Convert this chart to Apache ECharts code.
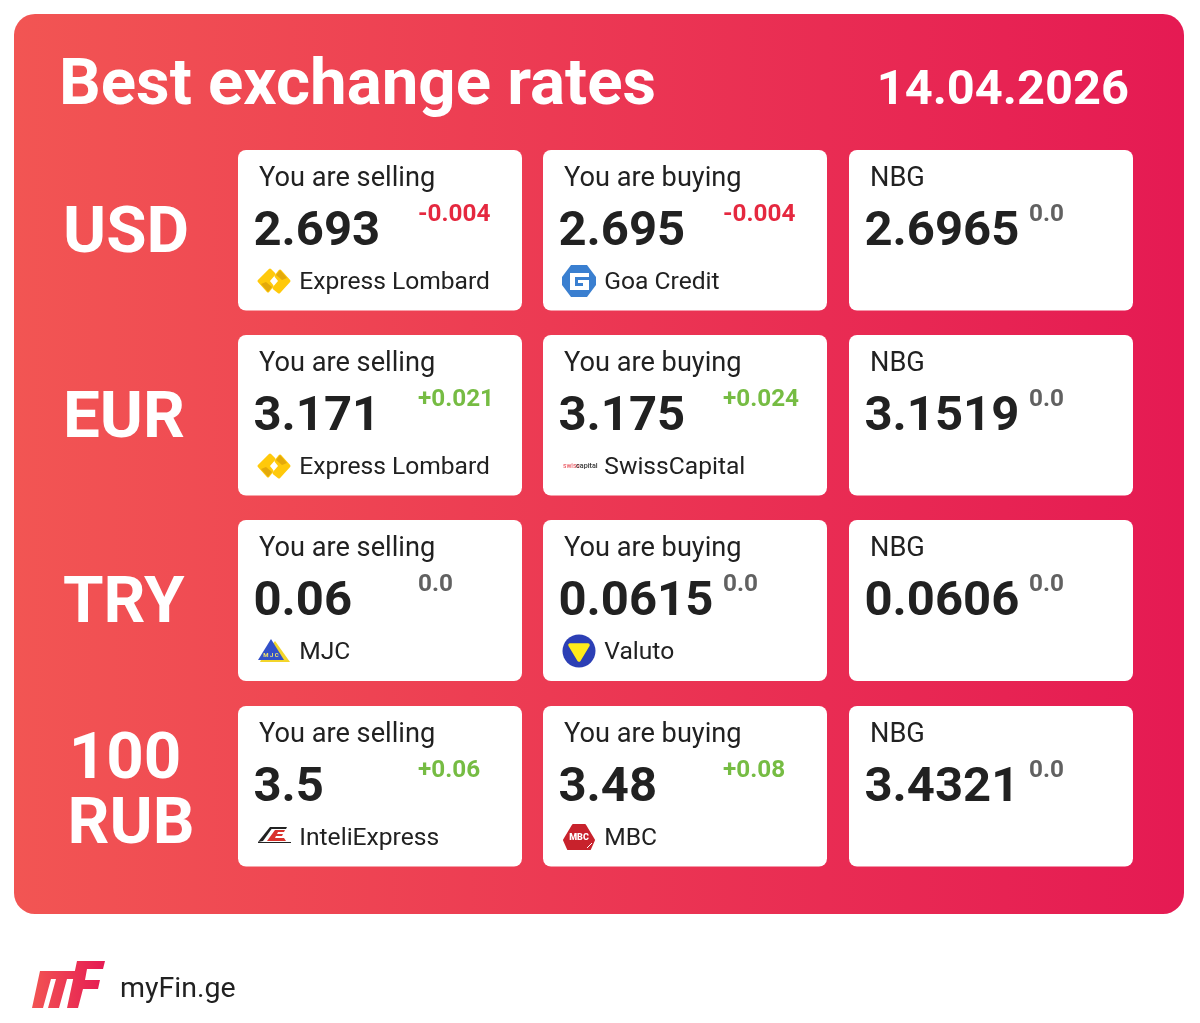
<!DOCTYPE html>
<html><head><meta charset="utf-8">
<style>html,body{margin:0;padding:0;background:#fff}#c{width:1200px;height:1023px}</style>
<script src="https://cdn.jsdelivr.net/npm/echarts@6/dist/echarts.min.js"></script>
</head><body><div id="c"></div>
<script>
const title = 'Best exchange rates';
const dateLabel = '14.04.2026';
const brand = 'myFin.ge';
const currencies = [['USD'], ['EUR'], ['TRY'], ['100', 'RUB']];
const columnHeads = ['You are selling', 'You are buying', 'NBG'];
const sellRates = ['2.693', '3.171', '0.06', '3.5'];
const sellChanges = ['-0.004', '+0.021', '0.0', '+0.06'];
const sellBanks = ['Express Lombard', 'Express Lombard', 'MJC', 'InteliExpress'];
const buyRates = ['2.695', '3.175', '0.0615', '3.48'];
const buyChanges = ['-0.004', '+0.024', '0.0', '+0.08'];
const buyBanks = ['Goa Credit', 'SwissCapital', 'Valuto', 'MBC'];
const nbgRates = ['2.6965', '3.1519', '0.0606', '3.4321'];
const nbgChanges = ['0.0', '0.0', '0.0', '0.0'];

const FONT = 'Roboto';
const cardX = [238, 543, 849], cardY = [150, 335, 520, 706], cardW = 284, cardHs = [160.5, 160.5, 161, 160.5];
const els = [];
const txt = (x, y, text, size, weight, fill, align) => els.push({type:'text', silent:true, style:{x, y, text, fill,
  font:`${weight} ${size}px ${FONT}`, textAlign:align||'left', textVerticalAlign:'middle', verticalAlign:'middle'}});
const poly = (points, fill, extra) => els.push(Object.assign({type:'polygon', silent:true, shape:{points}, style:{fill}}, extra||{}));
const rel = (x, y, pts) => pts.map(p => [x + p[0], y + p[1]]);
const changeColor = v => v[0]==='-' ? '#E5283F' : v[0]==='+' ? '#76BC43' : '#616161';
const stops = [{offset:0,color:'#F25553'},{offset:1,color:'#E51A53'}];

els.push({type:'rect', silent:true, shape:{x:14,y:14,width:1170,height:900,r:21}, style:{fill:new echarts.graphic.LinearGradient(0,0,1,0,stops)}});
txt(59, 88, title, 65.4, 700, '#fff');
txt(1129, 92, dateLabel, 48.8, 700, '#fff', 'right');

const rounded = (fill, w) => ({style:{fill, stroke:fill, lineWidth:w, lineJoin:'round'}});
const logos = {
  'Express Lombard'(x,y){
    const a='#FFC90B', b='#E3A90B';
    poly(rel(x,y,[[-15,0],[-4,-11],[0,-7],[-6,0],[-2,5],[-6,10]]),a,rounded(a,3));
    poly(rel(x,y,[[15,0],[5,11],[0,7],[6,0],[2,-5],[6,-10]]),a,rounded(a,3));
    poly(rel(x,y,[[2,-6],[6,-11],[13,-3],[8,-1]]),b);
    poly(rel(x,y,[[-2,6],[-6,11],[-13,3],[-8,1]]),b);
  },
  'Goa Credit'(x,y){
    poly(rel(x,y,[[-8,-16],[8,-16],[17,-4],[17,4],[8,16],[-8,16],[-17,4],[-17,-4]]),'#3A7FD0');
    poly(rel(x,y,[[-9,-8],[10,-8],[10,-4],[-4,-4],[-4,5],[4,5],[4,2],[-1,2],[-1,-1],[10,-1],[10,9],[-9,9]]),'#fff');
  },
  'SwissCapital'(x,y){
    txt(x-16, y, 'swiss', 6.6, 400, '#E8444E');
    txt(x-3, y, 'capital', 7.2, 500, '#333');
  },
  'MJC'(x,y){
    poly(rel(x,y,[[1,-10],[16,11],[-14,11],[-13,9]]),'#F3D52A');
    poly(rel(x,y,[[-3,-12],[10,9],[-16,9]]),'#3350C8');
    txt(x-3, y+4, 'M J C', 6, 700, '#F3E36A', 'center');
  },
  'Valuto'(x,y){
    els.push({type:'circle',silent:true,shape:{cx:x,cy:y,r:16.5},style:{fill:'#2C3FB5'}});
    poly(rel(x,y,[[-9,-6],[9,-6],[0,9]]),'#FFEB1A',rounded('#FFEB1A',3.5));
  },
  'InteliExpress'(x,y){
    const k='#222';
    poly(rel(x,y,[[-16,5],[-4,-10],[-1,-10],[-11,4]]),k);
    poly(rel(x,y,[[-2,-10],[13,-10],[12,-8],[-3,-8]]),k);
    poly(rel(x,y,[[-16,5],[17,5],[17,6],[-16,6]]),k);
    poly(rel(x,y,[[-7,4],[1,-7],[11,-7],[10,-5],[4,-5],[3,-3],[9,-3],[8,-1],[2,-1],[1,1],[10,1],[12,4]]),'#D9322C');
  },
  'MBC'(x,y){
    const r='#C8222C';
    poly(rel(x,y,[[-6,-12],[6,-12],[15,3],[11,12],[-11,12],[-15,3]]),r,rounded(r,2));
    txt(x, y+1, 'MBC', 9, 900, '#fff', 'center');
    els.push({type:'line',silent:true,shape:{x1:x+8,y1:y+11,x2:x+13,y2:y+6},style:{stroke:'#fff',lineWidth:1}});
  }
};

cardY.forEach((cy, r) => {
  const lines = currencies[r];
  if (lines.length === 1) txt(63, cy + 86, lines[0], 65.5, 700, '#fff');
  else { txt(125, cy + 56, lines[0], 65.5, 700, '#fff', 'center'); txt(131, cy + 121, lines[1], 65.5, 700, '#fff', 'center'); }
  const rows = [[sellRates,sellChanges,sellBanks],[buyRates,buyChanges,buyBanks],[nbgRates,nbgChanges,null]];
  rows.forEach(([rates,changes,banks], c) => {
    const x = cardX[c];
    els.push({type:'rect', silent:true, shape:{x,y:cy,width:cardW,height:cardHs[r],r:8}, style:{fill:'#fff'}});
    txt(x + 21, cy + 29, columnHeads[c], 27.2, 400, '#212121');
    txt(x + 15.5, cy + 83, rates[r], 49, 700, '#212121');
    txt(x + 180, cy + 65, changes[r], 24.3, 700, changeColor(changes[r]));
    if (banks) {
      logos[banks[r]](x + 36, cy + 131);
      txt(x + 61.3, cy + 133, banks[r], 24.6, 400, '#212121');
    }
  });
});

// footer logo
const logoFill = new echarts.graphic.LinearGradient(31,0,105,0,stops,true);
poly([[32,1008],[40,971],[76,971],[74,979],[67,979],[59,1008],[48,1008],[56,979],[51,979],[43,1008]],logoFill);
poly([[67,1008],[77,961],[105,961],[103,969],[87,969],[85,980],[100,980],[98,989],[83,989],[78,1008]],logoFill);
txt(120, 990, brand, 28.5, 400, '#212121');

const chart = echarts.init(document.getElementById('c'), null, {renderer:'canvas', width:1200, height:1023});
chart.setOption({animation:false, backgroundColor:'#fff', graphic:{elements:els}});
</script></body></html>
